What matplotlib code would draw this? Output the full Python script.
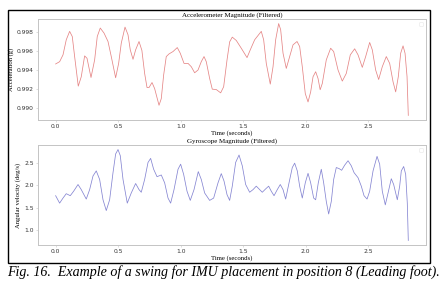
import matplotlib
matplotlib.use("Agg")
import matplotlib.pyplot as plt
from matplotlib.patches import Rectangle

# Filtered accelerometer magnitude (g)
acc_time = [0.000, 0.032, 0.059, 0.085, 0.112, 0.133, 0.152, 0.181, 0.205, 0.232,
            0.251, 0.283, 0.312, 0.333, 0.357, 0.387, 0.419, 0.445, 0.480, 0.504,
            0.525, 0.555, 0.579, 0.597, 0.619, 0.640, 0.667, 0.690, 0.712, 0.731,
            0.747, 0.771, 0.792, 0.827, 0.845, 0.864, 0.885, 0.907, 0.939, 0.973,
            0.997, 1.027, 1.059, 1.085, 1.112, 1.139, 1.165, 1.187, 1.205, 1.232,
            1.253, 1.285, 1.320, 1.344, 1.371, 1.392, 1.413, 1.445, 1.485, 1.531,
            1.557, 1.592, 1.645, 1.664, 1.685, 1.717, 1.739, 1.760, 1.784, 1.800,
            1.819, 1.845, 1.872, 1.899, 1.931, 1.952, 1.973, 1.997, 2.019, 2.040,
            2.059, 2.080, 2.099, 2.116, 2.133, 2.165, 2.200, 2.224, 2.259, 2.293,
            2.325, 2.357, 2.392, 2.419, 2.453, 2.480, 2.512, 2.533, 2.560, 2.584,
            2.613, 2.645, 2.672, 2.699, 2.720, 2.741, 2.760, 2.779, 2.795, 2.811,
            2.821]
acc_mag = [0.99467, 0.99491, 0.99563, 0.99722, 0.99811, 0.99757, 0.99545, 0.99233, 0.99332, 0.99552,
           0.99527, 0.99324, 0.99510, 0.99757, 0.99846, 0.99793, 0.99704, 0.99545, 0.99321, 0.99473,
           0.99686, 0.99856, 0.99775, 0.99616, 0.99516, 0.99616, 0.99704, 0.99610, 0.99367, 0.99218,
           0.99218, 0.99271, 0.99207, 0.99031, 0.99101, 0.99350, 0.99545, 0.99573, 0.99598, 0.99640,
           0.99580, 0.99473, 0.99473, 0.99438, 0.99374, 0.99403, 0.99491, 0.99545, 0.99491, 0.99314,
           0.99201, 0.99197, 0.99162, 0.99226, 0.99510, 0.99700, 0.99750, 0.99715, 0.99633, 0.99534,
           0.99616, 0.99722, 0.99811, 0.99722, 0.99473, 0.99254, 0.99438, 0.99722, 0.99893, 0.99829,
           0.99580, 0.99420, 0.99545, 0.99669, 0.99704, 0.99651, 0.99438, 0.99154, 0.99066, 0.99172,
           0.99332, 0.99385, 0.99314, 0.99195, 0.99261, 0.99510, 0.99633, 0.99598, 0.99403, 0.99286,
           0.99367, 0.99563, 0.99627, 0.99563, 0.99431, 0.99545, 0.99694, 0.99616, 0.99403, 0.99303,
           0.99438, 0.99545, 0.99473, 0.99279, 0.99172, 0.99332, 0.99580, 0.99658, 0.99580, 0.99332,
           0.98924]

# Filtered gyroscope magnitude (deg/s)
gyr_time = [0.000, 0.032, 0.059, 0.085, 0.117, 0.144, 0.179, 0.205, 0.245, 0.272,
            0.299, 0.325, 0.352, 0.379, 0.405, 0.432, 0.459, 0.480, 0.499, 0.517,
            0.539, 0.573, 0.605, 0.640, 0.667, 0.685, 0.712, 0.739, 0.760, 0.784,
            0.811, 0.845, 0.872, 0.899, 0.920, 0.947, 0.979, 1.000, 1.024, 1.051,
            1.077, 1.107, 1.141, 1.165, 1.192, 1.232, 1.264, 1.299, 1.325, 1.347,
            1.371, 1.392, 1.413, 1.440, 1.467, 1.493, 1.520, 1.552, 1.579, 1.605,
            1.632, 1.653, 1.680, 1.704, 1.725, 1.747, 1.773, 1.797, 1.819, 1.840,
            1.867, 1.893, 1.912, 1.933, 1.952, 1.973, 1.997, 2.019, 2.040, 2.064,
            2.080, 2.101, 2.125, 2.144, 2.165, 2.184, 2.205, 2.224, 2.245, 2.267,
            2.288, 2.312, 2.339, 2.365, 2.387, 2.419, 2.445, 2.467, 2.491, 2.512,
            2.539, 2.571, 2.592, 2.613, 2.637, 2.659, 2.685, 2.704, 2.733, 2.752,
            2.765, 2.784, 2.800, 2.813, 2.821]
gyr_mag = [1.764, 1.598, 1.711, 1.809, 1.764, 1.864, 2.014, 1.900, 1.689, 1.900,
           2.205, 2.318, 2.127, 1.673, 1.432, 1.673, 2.280, 2.696, 2.795, 2.659,
           2.127, 1.598, 1.825, 2.036, 1.900, 1.841, 2.127, 2.507, 2.598, 2.355,
           2.189, 2.227, 2.052, 1.711, 1.598, 1.900, 2.355, 2.468, 2.241, 1.864,
           1.659, 1.900, 2.302, 2.127, 1.825, 1.659, 1.711, 2.052, 2.257, 2.091,
           1.787, 1.659, 1.977, 2.507, 2.673, 2.432, 2.014, 1.841, 1.900, 1.977,
           1.900, 1.841, 1.916, 1.977, 1.864, 1.764, 1.900, 2.014, 1.900, 1.689,
           2.052, 2.393, 2.491, 2.318, 1.977, 1.711, 2.052, 2.264, 2.052, 1.711,
           1.673, 2.052, 2.355, 2.052, 1.636, 1.355, 1.636, 2.127, 2.393, 2.370,
           2.332, 2.446, 2.545, 2.432, 2.280, 2.166, 1.977, 1.764, 1.689, 1.864,
           2.318, 2.643, 2.468, 1.864, 1.559, 1.825, 2.143, 2.014, 1.673, 1.977,
           2.318, 2.416, 2.241, 1.598, 0.764]

caption = "Fig. 16.  Example of a swing for IMU placement in position 8 (Leading foot)."

serif = ["Liberation Serif", "DejaVu Serif"]
spine_col = "#c4c4c4"

fig = plt.figure(figsize=(4.46, 2.96), dpi=100)
ax1 = fig.add_axes([0.0852, 0.5946, 0.8698, 0.3412])
ax2 = fig.add_axes([0.0852, 0.1723, 0.8698, 0.3378])

panels = [
    (ax1, acc_time, acc_mag, "#e58585", "Accelerometer Magnitude (Filtered)", "Acceleration (g)"),
    (ax2, gyr_time, gyr_mag, "#8585d2", "Gyroscope Magnitude (Filtered)", "Angular velocity (deg/s)"),
]
for ax, t, v, col, title, ylab in panels:
    ax.plot(t, v, color=col, linewidth=0.55)
    ax.set_title(title, fontsize=5, family=serif, pad=1.5)
    ax.set_xlabel("Time (seconds)", fontsize=4.9, family=serif, labelpad=1)
    ax.set_ylabel(ylab, fontsize=4.8, family=serif, labelpad=2)
    ax.tick_params(labelsize=4.3, length=1.5, width=0.4, color=spine_col,
                   labelcolor="#333333", pad=1.5)
    ax.set_xticks([0.0, 0.5, 1.0, 1.5, 2.0, 2.5])
    for s in ax.spines.values():
        s.set_color(spine_col)
        s.set_linewidth(0.7)
    leg = ax.legend(handles=[], loc="upper right", fontsize=4, frameon=True)
    leg.get_frame().set_edgecolor("#e0e0e0")
    leg.get_frame().set_linewidth(0.4)

ax1.set_yticks([0.990, 0.992, 0.994, 0.996, 0.998])
ax1.set_yticklabels(["0.990", "0.992", "0.994", "0.996", "0.998"])
ax2.set_yticks([1.0, 1.5, 2.0, 2.5])

# black frame round the two panels
fig.patches.append(Rectangle((0.0179, 0.1115), 0.9462, 0.8545, transform=fig.transFigure,
                             fill=False, edgecolor="black", linewidth=1.0))

fig.text(0.5, 0.081, caption, ha="center", va="center", fontsize=10.1,
         family=serif, style="italic")

fig.savefig("out.png", dpi=100)
